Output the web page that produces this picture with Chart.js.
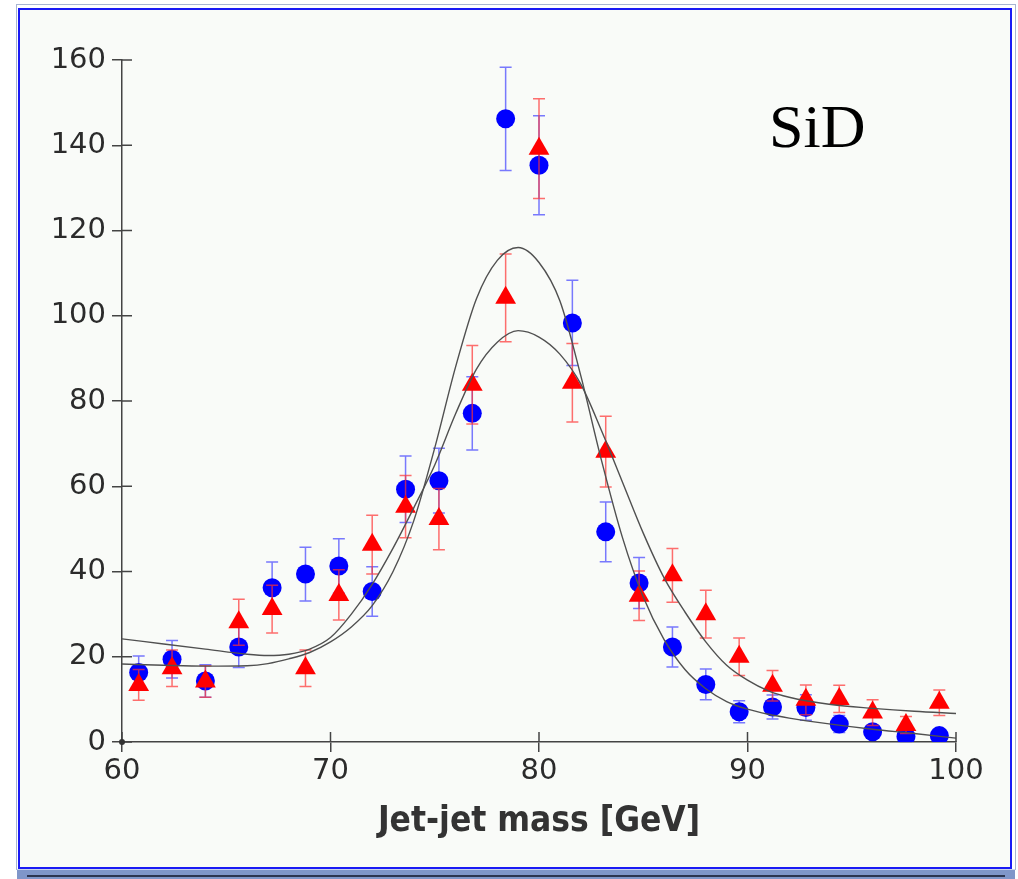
<!DOCTYPE html>
<html lang="en">
<head>
    <meta charset="UTF-8">
    <title>SiD jet-jet mass</title>
    <script src="https://cdn.jsdelivr.net/npm/chart.js"></script>
    <style>
        body {
            margin: 0;
            background: #ffffff;
            width: 1018px;
            height: 879px;
            overflow: hidden;
            position: relative;
        }
        #outer {
            position: absolute;
            left: 16px;
            top: 4px;
            width: 1000px;
            height: 866px;
            border: 1px solid #a7b5d2;
            box-sizing: border-box;
        }
        #frame {
            position: absolute;
            left: 18px;
            top: 8px;
            width: 994px;
            height: 861px;
            border: 2px solid #1a1af5;
            box-sizing: border-box;
            background: #f9fbf8;
        }
        #band {
            position: absolute;
            left: 17px;
            top: 869px;
            width: 998px;
            height: 10px;
            background: #7f96c9;
            border-top: 1px solid #c9d3ea;
        }
        #band div {
            margin: 5px 10px 0 10px;
            height: 2px;
            background: #2c3550;
        }
        canvas {
            position: absolute;
            left: 0;
            top: 0;
        }
    </style>
</head>
<body>
    <div id="outer"></div>
    <div id="frame"></div>
    <div id="band"><div></div></div>
    <canvas id="massChart" width="1018" height="879"></canvas>

    <script>
        // bin centres [GeV]
        const massBins = [60.8, 62.4, 64.0, 65.6, 67.2, 68.8, 70.4, 72.0, 73.6, 75.2, 76.8, 78.4, 80.0,
                          81.6, 83.2, 84.8, 86.4, 88.0, 89.6, 91.2, 92.8, 94.4, 96.0, 97.6, 99.2];

        // blue circles
        const blueCounts = [16.3, 19.4, 14.3, 22.3, 36.2, 39.4, 41.3, 35.3, 59.3, 61.3, 77.1, 146.2, 135.3,
                            98.3, 49.3, 37.3, 22.3, 13.5, 7.1, 8.2, 8.1, 4.2, 2.4, 1.3, 1.5];
        const blueErrors = [3.9, 4.4, 3.8, 4.8, 6.0, 6.3, 6.4, 5.8, 7.8, 7.6, 8.6, 12.1, 11.6,
                            10.0, 7.0, 6.0, 4.7, 3.6, 2.6, 2.8, 3.0, 2.0, 1.5, 1.2, 1.2];

        // red triangles
        const redCounts = [13.4, 17.3, 14.2, 28.1, 31.2, 17.3, 34.5, 46.3, 55.2, 52.3, 83.8, 104.2, 139.2,
                           84.3, 68.1, 34.3, 39.1, 30.0, 20.0, 13.2, 9.9, 10.1, 6.9, 4.0, 9.2];
        const redErrors = [3.6, 4.3, 3.7, 5.4, 5.6, 4.3, 5.9, 6.9, 7.3, 7.2, 9.2, 10.3, 11.7,
                           9.2, 8.3, 5.8, 6.3, 5.6, 4.4, 3.6, 3.5, 3.2, 3.0, 2.0, 3.0];

        // fitted curves
        const fitMass = [60, 62, 64, 66, 67, 68, 69, 70, 71, 72, 73, 74, 75, 76, 77, 78, 79, 80, 81, 82,
                         83, 84, 85, 86, 87, 88, 89, 90, 91, 92, 94, 96, 98, 100];
        const fitBlue = [18.3, 18.0, 17.8, 17.9, 18.4, 19.5, 21.0, 23.5, 27.0, 32.0, 40.0, 52.0, 69.0, 88.0,
                         104.0, 113.0, 116.0, 112.5, 103.5, 86.0, 66.0, 48.0, 34.0, 24.0, 17.0, 12.5,
                         9.5, 7.7, 6.5, 5.6, 4.2, 3.0, 2.0, 0.9];
        const fitRed = [24.2, 23.0, 21.8, 20.6, 20.3, 20.6, 21.8, 24.5, 30.0, 37.0, 45.5, 55.0, 65.0, 77.0,
                        87.5, 93.8, 96.5, 95.0, 91.0, 84.0, 73.0, 61.0, 49.0, 38.5, 30.5, 23.5,
                        18.0, 14.5, 12.0, 10.5, 8.8, 7.9, 7.2, 6.7];

        const xTicks = [60, 70, 80, 90, 100];
        const yTicks = [0, 20, 40, 60, 80, 100, 120, 140, 160];

        const toPoints = (xs, ys) => xs.map((x, i) => ({ x: x, y: ys[i] }));

        // error bars under each marker set, inner tick halves, the SiD label
        const extras = {
            id: 'extras',
            beforeDatasetDraw(chart, args) {
                const ds = chart.data.datasets[args.index];
                if (!ds.errors) return;
                const ctx = chart.ctx;
                const xs = chart.scales.x, ys = chart.scales.y;
                ctx.save();
                ctx.strokeStyle = ds.errorColor;
                ctx.lineWidth = 1.5;
                ds.data.forEach((p, i) => {
                    const px = xs.getPixelForValue(p.x);
                    const top = ys.getPixelForValue(p.y + ds.errors[i]);
                    const bot = ys.getPixelForValue(Math.max(0, p.y - ds.errors[i]));
                    ctx.beginPath();
                    ctx.moveTo(px, top); ctx.lineTo(px, bot);
                    ctx.moveTo(px - 6, top); ctx.lineTo(px + 6, top);
                    ctx.moveTo(px - 6, bot); ctx.lineTo(px + 6, bot);
                    ctx.stroke();
                });
                ctx.restore();
            },
            afterDraw(chart) {
                const ctx = chart.ctx;
                const xs = chart.scales.x, ys = chart.scales.y;
                const area = chart.chartArea;
                ctx.save();
                ctx.strokeStyle = '#444';
                ctx.lineWidth = 1.5;
                ctx.beginPath();
                xs.ticks.forEach(t => {
                    const px = xs.getPixelForValue(t.value);
                    ctx.moveTo(px, area.bottom); ctx.lineTo(px, area.bottom - 10);
                });
                ys.ticks.forEach(t => {
                    const py = ys.getPixelForValue(t.value);
                    ctx.moveTo(area.left, py); ctx.lineTo(area.left + 10, py);
                });
                ctx.stroke();
                ctx.fillStyle = '#333';
                ctx.beginPath();
                ctx.arc(area.left, area.bottom, 3, 0, Math.PI * 2);
                ctx.fill();
                ctx.fillStyle = '#000';
                ctx.font = '62px "Liberation Serif"';
                ctx.textBaseline = 'alphabetic';
                ctx.fillText('SiD', 769, 147);
                ctx.restore();
            }
        };

        const tickFont = { family: '"DejaVu Sans"', size: 29, weight: '500' };

        new Chart(document.getElementById('massChart'), {
            type: 'scatter',
            data: {
                datasets: [
                    {
                        label: 'fit blue',
                        data: toPoints(fitMass, fitBlue),
                        showLine: true,
                        pointRadius: 0,
                        borderColor: '#505050',
                        borderWidth: 1.4,
                        cubicInterpolationMode: 'monotone'
                    },
                    {
                        label: 'fit red',
                        data: toPoints(fitMass, fitRed),
                        showLine: true,
                        pointRadius: 0,
                        borderColor: '#505050',
                        borderWidth: 1.4,
                        cubicInterpolationMode: 'monotone'
                    },
                    {
                        label: 'red',
                        data: toPoints(massBins, redCounts),
                        errors: redErrors,
                        errorColor: 'rgba(255, 50, 50, 0.7)',
                        pointStyle: 'triangle',
                        pointRadius: 12,
                        pointBorderWidth: 0,
                        backgroundColor: '#ff0000',
                        clip: 0
                    },
                    {
                        label: 'blue',
                        data: toPoints(massBins, blueCounts),
                        errors: blueErrors,
                        errorColor: 'rgba(50, 50, 255, 0.65)',
                        pointStyle: 'circle',
                        pointRadius: 9.5,
                        pointBorderWidth: 0,
                        backgroundColor: '#0000ff',
                        clip: 0
                    }
                ]
            },
            options: {
                responsive: false,
                animation: false,
                layout: { padding: { top: 60, right: 62, left: 0, bottom: 0 } },
                plugins: {
                    legend: { display: false },
                    tooltip: { enabled: false }
                },
                scales: {
                    x: {
                        type: 'linear',
                        min: 60,
                        max: 100,
                        afterBuildTicks: scale => { scale.ticks = xTicks.map(v => ({ value: v })); },
                        afterFit: scale => { scale.height = 137; },
                        ticks: { font: tickFont, color: '#2b2b2b', padding: 2, maxRotation: 0 },
                        grid: { drawOnChartArea: false, tickLength: 10, color: '#444', lineWidth: 1.5 },
                        border: { color: '#444', width: 1.5 },
                        title: {
                            display: true,
                            text: 'Jet-jet mass [GeV]',
                            color: '#333',
                            font: { family: '"DejaVu Sans Condensed", "DejaVu Sans"', size: 35, weight: 'bold' },
                            padding: { top: 0, bottom: 36 }
                        }
                    },
                    y: {
                        type: 'linear',
                        min: 0,
                        max: 160,
                        afterBuildTicks: scale => { scale.ticks = yTicks.map(v => ({ value: v })); },
                        afterFit: scale => { scale.width = 122; },
                        ticks: { font: tickFont, color: '#2b2b2b', padding: 6 },
                        grid: { drawOnChartArea: false, tickLength: 10, color: '#444', lineWidth: 1.5 },
                        border: { color: '#444', width: 1.5 }
                    }
                }
            },
            plugins: [extras]
        });
    </script>
</body>
</html>
